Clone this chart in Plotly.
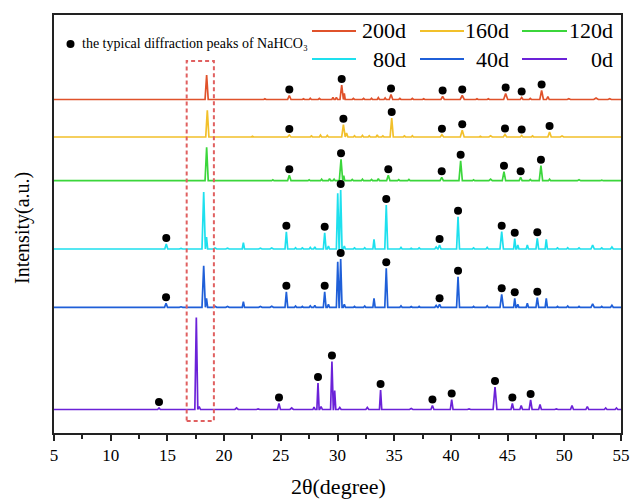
import plotly.graph_objects as go

# XRD patterns after different storage times.
# Each peak: (2theta, intensity above the pattern baseline, half base width)
PEAKS_200D = [
    (12.0, 0.6, 0.2), (18.46, 24.5, 0.14), (23.6, 0.8, 0.1), (25.75, 4.0, 0.15),
    (27.0, 0.8, 0.1), (27.6, 1.2, 0.1), (28.4, 1.0, 0.1), (29.6, 2.0, 0.1),
    (29.9, 2.0, 0.1), (30.37, 14.5, 0.15), (30.6, 6.0, 0.08), (31.4, 1.0, 0.1),
    (32.3, 1.0, 0.1), (33.0, 1.2, 0.1), (33.6, 1.8, 0.1), (34.2, 1.5, 0.1),
    (34.72, 5.0, 0.15), (35.5, 1.0, 0.1), (36.6, 1.0, 0.1), (37.6, 0.8, 0.1),
    (39.27, 3.0, 0.15), (41.0, 4.0, 0.18), (42.3, 0.8, 0.1), (43.3, 0.8, 0.1),
    (44.83, 6.0, 0.18), (46.24, 2.0, 0.12), (47.0, 1.0, 0.1), (48.0, 9.0, 0.16),
    (48.55, 3.0, 0.12), (50.4, 0.8, 0.15), (52.8, 1.5, 0.2), (54.0, 0.8, 0.15),
]
PEAKS_160D = [
    (12.3, 0.5, 0.2), (18.52, 26.7, 0.14), (22.5, 0.8, 0.1), (25.75, 2.0, 0.15),
    (27.7, 1.0, 0.1), (28.5, 1.8, 0.1), (29.1, 1.5, 0.1), (30.52, 12.3, 0.15),
    (30.8, 4.0, 0.12), (31.5, 1.2, 0.1), (32.2, 1.5, 0.1), (32.8, 1.2, 0.1),
    (33.5, 2.0, 0.1), (34.0, 1.0, 0.1), (34.78, 19.0, 0.14), (35.9, 1.0, 0.1),
    (36.6, 1.2, 0.1), (39.21, 2.3, 0.15), (41.0, 6.7, 0.17), (42.6, 0.8, 0.1),
    (43.5, 1.2, 0.15), (44.77, 2.5, 0.15), (46.24, 1.5, 0.12), (47.2, 1.0, 0.1),
    (48.7, 5.0, 0.15), (49.8, 1.0, 0.15), (51.5, 0.6, 0.15),
]
PEAKS_120D = [
    (9.0, 0.5, 0.2), (13.0, 0.5, 0.2), (16.2, 0.6, 0.15), (18.46, 33.4, 0.14),
    (24.3, 0.8, 0.1), (25.75, 5.4, 0.15), (27.5, 0.8, 0.1), (28.6, 1.5, 0.1),
    (29.3, 2.0, 0.1), (29.7, 1.5, 0.1), (30.31, 21.4, 0.15), (30.55, 5.0, 0.09),
    (31.3, 1.2, 0.1), (32.2, 1.5, 0.1), (33.0, 1.2, 0.1), (33.6, 2.0, 0.1),
    (34.48, 5.4, 0.15), (35.4, 1.0, 0.1), (36.3, 1.2, 0.1), (39.19, 3.4, 0.15),
    (40.86, 20.0, 0.15), (42.0, 0.8, 0.1), (43.5, 1.5, 0.15), (44.68, 9.0, 0.15),
    (46.15, 3.4, 0.13), (47.0, 1.2, 0.1), (47.94, 15.0, 0.15), (48.7, 1.5, 0.1),
    (51.3, 1.0, 0.15), (53.3, 0.6, 0.15),
]
PEAKS_80D = [
    (7.5, 0.6, 0.2), (10.0, 0.5, 0.2), (12.5, 0.6, 0.2), (14.9, 5.0, 0.13),
    (16.2, 0.6, 0.15), (18.2, 57.0, 0.15), (18.45, 12.0, 0.1), (19.2, 1.0, 0.15),
    (20.3, 0.8, 0.15), (21.7, 6.3, 0.1), (23.2, 0.8, 0.15), (24.2, 1.0, 0.15),
    (25.49, 17.3, 0.12), (26.3, 1.2, 0.1), (26.9, 1.0, 0.1), (27.6, 1.5, 0.1),
    (28.0, 2.0, 0.1), (28.87, 16.3, 0.12), (29.2, 3.0, 0.1), (30.02, 55.7, 0.12),
    (30.28, 59.0, 0.12), (30.6, 3.0, 0.1), (31.5, 1.0, 0.1), (32.4, 1.2, 0.1),
    (33.22, 9.7, 0.1), (34.3, 44.0, 0.13), (35.6, 1.5, 0.1), (36.5, 0.8, 0.1),
    (37.2, 1.0, 0.1), (38.7, 2.0, 0.12), (39.0, 4.0, 0.13), (40.63, 32.3, 0.13),
    (42.0, 1.0, 0.1), (43.2, 1.5, 0.1), (44.48, 17.3, 0.15), (45.63, 10.3, 0.1),
    (45.9, 4.0, 0.1), (46.74, 4.0, 0.1), (47.62, 10.7, 0.12), (48.41, 9.7, 0.1),
    (49.4, 1.0, 0.1), (50.3, 1.2, 0.1), (51.3, 1.0, 0.1), (52.5, 4.0, 0.15),
    (53.3, 1.0, 0.1), (54.2, 2.0, 0.12),
]
PEAKS_40D = [
    (7.5, 0.5, 0.2), (10.5, 0.5, 0.2), (12.8, 0.5, 0.2), (14.88, 4.0, 0.13),
    (16.2, 0.5, 0.15), (18.2, 41.6, 0.15), (18.45, 9.0, 0.1), (19.2, 1.0, 0.15),
    (20.3, 0.8, 0.15), (21.7, 5.6, 0.1), (23.2, 0.8, 0.15), (24.2, 1.0, 0.15),
    (25.49, 15.6, 0.12), (26.3, 1.2, 0.1), (26.9, 1.0, 0.1), (27.6, 1.5, 0.1),
    (28.0, 2.0, 0.1), (28.87, 15.6, 0.12), (29.2, 3.0, 0.1), (30.02, 45.6, 0.12),
    (30.28, 48.3, 0.12), (30.6, 3.0, 0.1), (31.5, 1.0, 0.1), (32.4, 1.2, 0.1),
    (33.22, 9.0, 0.1), (34.3, 39.0, 0.13), (35.6, 1.5, 0.1), (36.5, 0.8, 0.1),
    (37.2, 1.0, 0.1), (38.7, 1.8, 0.12), (39.0, 3.0, 0.13), (40.63, 30.6, 0.13),
    (42.0, 1.0, 0.1), (43.2, 1.5, 0.1), (44.48, 13.0, 0.15), (45.63, 9.0, 0.1),
    (45.9, 3.0, 0.1), (46.74, 4.0, 0.1), (47.62, 9.6, 0.12), (48.41, 9.0, 0.1),
    (49.4, 1.0, 0.1), (50.3, 1.2, 0.1), (51.3, 1.0, 0.1), (52.5, 3.5, 0.15),
    (53.3, 1.0, 0.1), (54.2, 2.0, 0.12),
]
PEAKS_0D = [
    (8.0, 0.5, 0.3), (11.5, 0.4, 0.3), (14.26, 1.5, 0.12), (17.55, 92.0, 0.13),
    (17.8, 3.0, 0.12), (21.1, 1.5, 0.15), (23.0, 0.5, 0.15), (24.84, 6.0, 0.13),
    (25.96, 1.5, 0.15), (27.93, 2.5, 0.1), (28.28, 26.5, 0.1), (28.55, 3.0, 0.12),
    (29.51, 48.0, 0.12), (29.75, 19.0, 0.1), (30.2, 2.0, 0.12), (31.5, 0.5, 0.15),
    (32.63, 2.0, 0.13), (33.8, 19.5, 0.1), (35.2, 0.6, 0.15), (36.5, 1.0, 0.15),
    (38.37, 4.0, 0.13), (40.07, 10.0, 0.12), (41.6, 0.6, 0.15), (42.6, 0.5, 0.15),
    (43.89, 22.5, 0.17), (45.42, 6.0, 0.12), (46.2, 4.0, 0.12), (47.03, 9.5, 0.13),
    (47.86, 5.0, 0.12), (49.3, 0.5, 0.15), (50.68, 4.0, 0.13), (52.03, 3.0, 0.13),
    (53.65, 1.5, 0.12), (54.6, 1.5, 0.12),
]

# 2theta positions of the NaHCO3 reflections marked in each pattern
NAHCO3_200D = [25.75, 30.37, 34.72, 39.27, 41.0, 44.83, 46.24, 48.0]
NAHCO3_160D = [25.75, 30.52, 34.78, 39.21, 41.0, 44.77, 46.24, 48.7]
NAHCO3_120D = [25.75, 30.31, 34.48, 39.19, 40.86, 44.68, 46.15, 47.94]
NAHCO3_80D = [14.9, 25.49, 28.87, 30.28, 34.3, 39.0, 40.63, 44.48, 45.63, 47.62]
NAHCO3_40D = [14.88, 25.49, 28.87, 30.28, 34.3, 39.0, 40.63, 44.48, 45.63, 47.62]
NAHCO3_0D = [14.26, 24.84, 28.28, 29.51, 33.8, 38.37, 40.07, 43.89, 45.42, 47.03]

# Stacking offset (baseline) of each pattern, a.u.
LABELS = ["200d", "160d", "120d", "80d", "40d", "0d"]
OFFSETS = [333.5, 296.0, 252.3, 184.0, 125.7, 23.5]
COLORS = ["#E0522B", "#F2C02A", "#3BD63B", "#1EE0EE", "#1F5FD8", "#6B22D8"]
PEAK_TABLES = [PEAKS_200D, PEAKS_160D, PEAKS_120D, PEAKS_80D, PEAKS_40D, PEAKS_0D]
MARKED = [NAHCO3_200D, NAHCO3_160D, NAHCO3_120D, NAHCO3_80D, NAHCO3_40D, NAHCO3_0D]

X_MIN, X_MAX = 5, 55
Y_MAX = 418
DOT_GAP = 6.0
HIGHLIGHT = (16.7, 19.1)
SERIF = "Liberation Serif, Times New Roman, serif"


def pattern(peaks, base):
    xs, ys = [X_MIN], [base]
    for pos, h, hw in sorted(peaks):
        xs += [pos - hw, pos, pos + hw]
        ys += [base, base + h, base]
    xs.append(X_MAX)
    ys.append(base)
    return xs, ys


def marker_points(peaks, base, marked):
    xs, ys = [], []
    for m in marked:
        pos, h, _ = min(peaks, key=lambda p: abs(p[0] - m))
        xs.append(pos)
        ys.append(base + h + DOT_GAP)
    return xs, ys


fig = go.Figure()
for label, base, color, peaks, marked in zip(LABELS, OFFSETS, COLORS, PEAK_TABLES, MARKED):
    x, y = pattern(peaks, base)
    fig.add_trace(go.Scatter(x=x, y=y, mode="lines", name=label,
                             line=dict(color=color, width=1.7), showlegend=False))
    mx, my = marker_points(peaks, base, marked)
    fig.add_trace(go.Scatter(x=mx, y=my, mode="markers", showlegend=False,
                             marker=dict(color="black", size=8)))

# plot-area pixel geometry used to place the hand-made legend and titles
L, T, W, H = 54, 15, 567, 418


def px(xp):
    return (xp - L) / W


def py(yp):
    return (T + H - yp) / H


shapes = [
    dict(type="rect", xref="x", yref="paper", x0=HIGHLIGHT[0], x1=HIGHLIGHT[1],
         y0=py(421), y1=py(61), line=dict(color="#E06060", width=2, dash="4px,3px")),
    dict(type="circle", xref="paper", yref="paper", xsizemode="pixel", ysizemode="pixel",
         xanchor=px(70.5), yanchor=py(44), x0=-4, x1=4, y0=-4, y1=4,
         fillcolor="black", line=dict(width=0)),
]
annotations = [
    dict(xref="paper", yref="paper", x=px(80), y=py(44), xanchor="left", yanchor="middle",
         text="the typical diffraction peaks of NaHCO₃", showarrow=False,
         font=dict(family=SERIF, size=14, color="black")),
    dict(xref="paper", yref="paper", x=px(338), y=py(486), xanchor="center",
         yanchor="middle", text="2θ(degree)", showarrow=False,
         font=dict(family=SERIF, size=22, color="black")),
    dict(xref="paper", yref="paper", x=px(22), y=py(228), xanchor="center",
         yanchor="middle", text="Intensity(a.u.)", textangle=-90, showarrow=False,
         font=dict(family=SERIF, size=20, color="black")),
]

legend_rows = [py(31), py(31), py(31), py(59), py(59), py(59)]
line_x = [(312, 356), (420, 464), (522, 567)] * 2
text_right = [408, 511, 615] * 2
for label, color, yl, (x0, x1), xr in zip(LABELS, COLORS, legend_rows, line_x, text_right):
    shapes.append(dict(type="line", xref="paper", yref="paper", x0=px(x0), x1=px(x1),
                       y0=yl, y1=yl, line=dict(color=color, width=2)))
    annotations.append(dict(xref="paper", yref="paper", x=px(xr), y=yl, xanchor="right",
                            yanchor="middle", text=label, showarrow=False,
                            font=dict(family=SERIF, size=22, color="black")))

fig.update_layout(
    width=632, height=500,
    margin=dict(l=L, r=632 - L - W, t=T, b=500 - T - H, autoexpand=False),
    paper_bgcolor="white", plot_bgcolor="white",
    font=dict(family=SERIF, color="black"),
    shapes=shapes, annotations=annotations,
    xaxis=dict(range=[X_MIN, X_MAX], tick0=5, dtick=5, ticks="outside", ticklen=6,
               tickwidth=1.5, tickcolor="#222", showline=True, linecolor="#222",
               linewidth=1.5, mirror=True, showgrid=False, zeroline=False,
               automargin=False,
               tickfont=dict(family=SERIF, size=17),
               minor=dict(dtick=2.5, ticks="outside", ticklen=4, tickwidth=1.5,
                          tickcolor="#222", showgrid=False)),
    yaxis=dict(range=[0, Y_MAX], showticklabels=False, ticks="", showline=True,
               linecolor="#222", linewidth=1.5, mirror=True, showgrid=False,
               zeroline=False, automargin=False),
)

fig.write_html("out.html")
